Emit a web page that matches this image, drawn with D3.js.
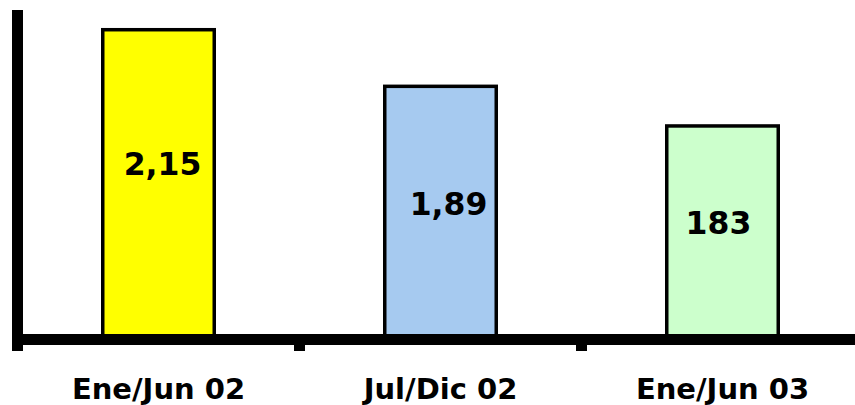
<!DOCTYPE html>
<html>
<head>
<meta charset="utf-8">
<script src="https://cdn.jsdelivr.net/npm/d3@7"></script>
<style>
  body { margin: 0; background: #fff; }
  text { font-family: "DejaVu Sans", Verdana, sans-serif; font-weight: bold; fill: #000; }
</style>
</head>
<body>
<div id="chart"></div>
<script>
  // data
  let categories = ["Ene/Jun 02", "Jul/Dic 02", "Ene/Jun 03"];
  let values = [2.15, 1.75, 1.47];
  let valueLabels = ["2,15", "1,89", "183"];
  let barColors = ["#ffff00", "#a6caf0", "#ccffcc"];

  let width = 855, height = 405;
  let axisY = 339.5;
  let axisX = 17.5;

  // small hand nudges for the value labels (as in the picture)
  let labelNudge = [[4, -18], [8, -6], [-4, -7]];

  let svg = d3.select("#chart").append("svg")
              .attr("width", width)
              .attr("height", height);

  let x = d3.scaleBand()
            .domain(categories)
            .range([axisX, axisX + 3 * 282])
            .padding(0);

  let y = d3.scaleLinear()
            .domain([0, 2.36])
            .range([axisY - 5.5, 0]);

  let barWidth = 115;

  let bars = svg.selectAll("g.bar")
                .data(categories)
                .enter()
                .append("g")
                .attr("class", "bar");

  bars.append("rect")
      .attr("x", function(d) { return x(d) + x.bandwidth() / 2 - barWidth / 2 + 1.75; })
      .attr("y", function(d, i) { return y(values[i]); })
      .attr("width", barWidth - 3.5)
      .attr("height", function(d, i) { return axisY - y(values[i]); })
      .attr("fill", function(d, i) { return barColors[i]; })
      .attr("stroke", "#000")
      .attr("stroke-width", 3.5);

  bars.append("text")
      .attr("x", function(d, i) { return x(d) + x.bandwidth() / 2 + labelNudge[i][0]; })
      .attr("y", function(d, i) { return (y(values[i]) + y(0)) / 2 + labelNudge[i][1]; })
      .attr("text-anchor", "middle")
      .attr("dominant-baseline", "central")
      .style("font-size", "31.5px")
      .text(function(d, i) { return valueLabels[i]; });

  // axes
  let axis = svg.append("g").attr("class", "axes");

  axis.append("line")
      .attr("x1", axisX).attr("x2", axisX)
      .attr("y1", y.range()[1] + 10).attr("y2", axisY + 11.5)
      .attr("stroke", "#000").attr("stroke-width", 11);

  axis.append("line")
      .attr("x1", axisX - 3.5).attr("x2", width)
      .attr("y1", axisY).attr("y2", axisY)
      .attr("stroke", "#000").attr("stroke-width", 11);

  axis.selectAll("line.tick")
      .data(categories.slice(1))
      .enter()
      .append("line")
      .attr("class", "tick")
      .attr("x1", function(d) { return x(d); })
      .attr("x2", function(d) { return x(d); })
      .attr("y1", axisY)
      .attr("y2", axisY + 11.5)
      .attr("stroke", "#000").attr("stroke-width", 11);

  svg.selectAll("text.cat")
     .data(categories)
     .enter()
     .append("text")
     .attr("class", "cat")
     .attr("x", function(d) { return x(d) + x.bandwidth() / 2; })
     .attr("y", 399)
     .attr("text-anchor", "middle")
     .style("font-size", "29px")
     .text(function(d) { return d; });
</script>
</body>
</html>
